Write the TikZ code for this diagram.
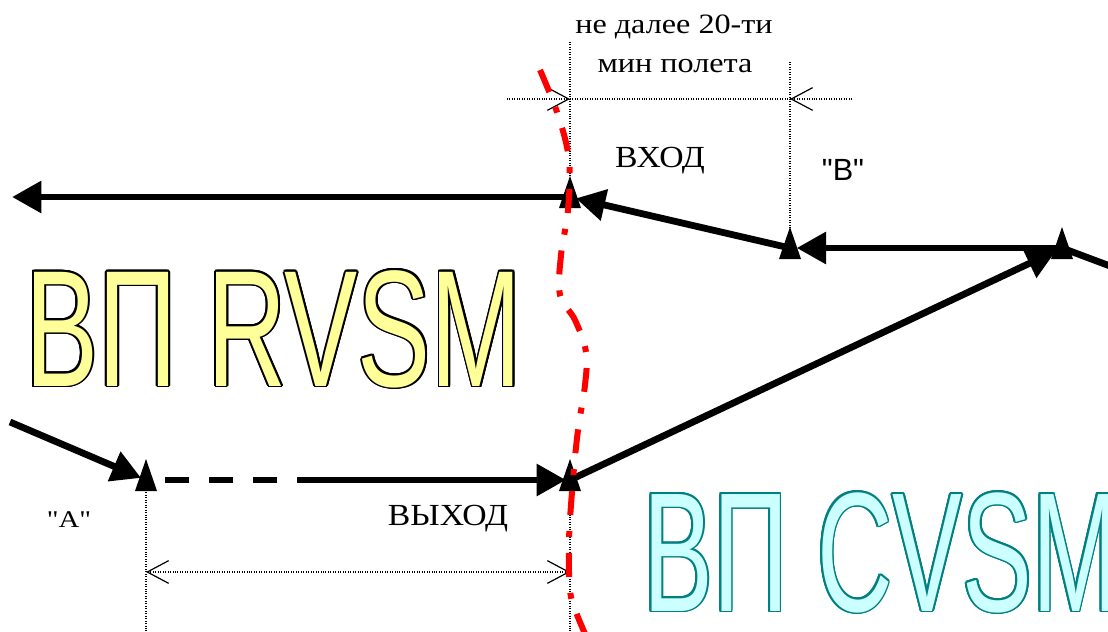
\documentclass[tikz,border=0pt]{standalone}
\usepackage{fontspec}
\setmainfont{Liberation Serif}
\newfontfamily\arialf{Liberation Sans}
\newfontfamily\plainserif{Liberation Serif}[Ligatures=TeXOff]
\usetikzlibrary{arrows.meta}
\definecolor{ryellow}{HTML}{FFFF99}
\definecolor{rcyan}{HTML}{CCFFFF}
\definecolor{rteal}{HTML}{008080}
\newcommand{\bigword}[3]{\scalebox{#2}[1]{\fontsize{#1}{#1}\arialf #3}}
\begin{document}
\begin{tikzpicture}[x=0.75pt,y=-0.75pt,
  thick line/.style={line width=5.1pt},
  flow/.style={thick line,-{Triangle[length=22pt,width=23pt]}},
  dimline/.style={line width=0.9pt,dash pattern=on 0.75pt off 1.1pt},
  lbl/.style={inner sep=0pt,font=\fontsize{21pt}{25pt}\selectfont},
  bigtext/.style={inner sep=0pt,anchor=base west},
  border/.style={red,line width=4.5pt,dash pattern=on 18pt off 12pt on 4.5pt off 12pt}
]
\useasboundingbox (0,0) rectangle (1108,632);
\clip (0,0) rectangle (1108,632);
\fill[white] (0,0) rectangle (1108,632);

% big outlined words
\foreach \a in {0,22.5,...,337.5}{
  \node[bigtext,text=black] at ([shift={(\a:1.8)}]25,386) {\bigword{124.5pt}{0.66}{ВП RVSM}};
  \node[bigtext,text=rteal] at ([shift={(\a:1.8)}]643,611) {\bigword{127.5pt}{0.615}{ВП CVSM}};
}
\node[bigtext,text=ryellow] (rvsm) at (25,386) {\bigword{124.5pt}{0.66}{ВП RVSM}};
\node[bigtext,text=rcyan] (cvsm) at (643,611) {\bigword{127.5pt}{0.615}{ВП CVSM}};

% coordinates
\coordinate (L) at (12,197);
\coordinate (T1) at (570,197);
\coordinate (T2) at (790,248);
\coordinate (T3) at (1062,248);
\coordinate (R) at (1110,266);
\coordinate (S) at (10,422);
\coordinate (A) at (146,480);
\coordinate (D) at (297,480);
\coordinate (T4) at (570,480);
\coordinate (u1) at (570,42);
\coordinate (u2) at (790,62);
\coordinate (h1) at (507,99);
\coordinate (h2) at (852,99);
\coordinate (m1) at (570,99);
\coordinate (m2) at (790,99);
\coordinate (b1) at (146,632);
\coordinate (b2) at (570,632);
\coordinate (d1) at (146,572);
\coordinate (d2) at (570,572);

% dotted dimension lines
\draw[dimline] (u1) -- (T1);
\draw[dimline] (u2) -- (T2);
\draw[dimline] (m1) -- (m2);
\draw[dimline,-{Straight Barb[length=16pt,width=17pt,line width=0.9pt]}] (h1) -- (m1);
\draw[dimline,-{Straight Barb[length=16pt,width=17pt,line width=0.9pt]}] (h2) -- (m2);
\draw[dimline] (A) -- (b1);
\draw[dimline] (T4) -- (b2);
\draw[dimline,{Straight Barb[length=16pt,width=17pt,line width=0.9pt]}-{Straight Barb[length=16pt,width=17pt,line width=0.9pt]}] (d1) -- (d2);

% route arrows
\draw[flow] (T1) -- (L);
\draw[flow,shorten >=4.5pt] (T2) -- (T1);
\draw[flow,shorten >=5pt] (T3) -- (T2);
\draw[thick line] (T3) -- (R);
\draw[flow,shorten >=5pt] (T4) -- (T3);
\draw[flow,shorten >=4pt] (S) -- (A);
\draw[thick line,dash pattern=on 18pt off 15pt,shorten <=14.25pt] (A) -- (D);
\draw[flow,shorten >=3pt] (D) -- (T4);

% waypoint triangles
\foreach \p in {T1,T2,T3,A,T4}{
  \fill (\p) ++(0,-21) -- ++(11,32) -- ++(-22,0) -- cycle;
}

% airspace border
\draw[border] plot[smooth,tension=0.6] coordinates {(540,70) (558,115) (569,160) (568,210) (561,255) (560,295) (575,320) (586,352) (585,385) (578,430) (573,480) (569,540) (570,590) (576,612) (586,636)};

% labels
\node[lbl,anchor=base] (t1) at (674,33) {\scalebox{1.15}[1]{не далее 20-ти}};
\node[lbl,anchor=base] (t2) at (675,72) {\scalebox{1.15}[1]{мин полета}};
\node[lbl,anchor=base,font=\fontsize{23pt}{27pt}\selectfont] (vhod) at (660,167) {\scalebox{1.1}[1]{ВХОД}};
\node[lbl,anchor=base,font=\fontsize{23pt}{27pt}\selectfont] (vyhod) at (448,525) {\scalebox{1.1}[1]{ВЫХОД}};
\node[inner sep=0pt,anchor=base,font=\fontsize{18pt}{22pt}\selectfont\plainserif] (la) at (69,527) {\scalebox{1.2}[1]{"A"}};
\node[inner sep=0pt,anchor=base,font=\fontsize{23pt}{27pt}\selectfont\arialf] (lb) at (843,180) {"B"};
\end{tikzpicture}
\end{document}
